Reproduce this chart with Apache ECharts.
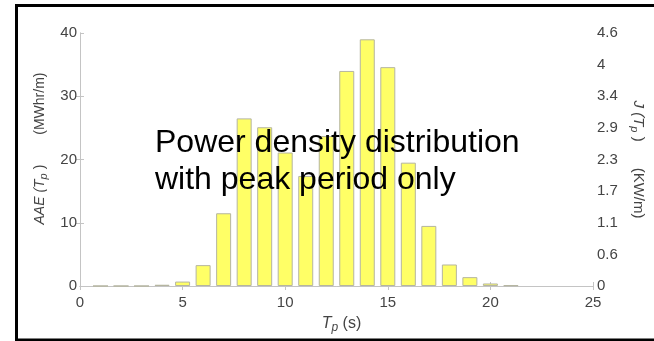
<!DOCTYPE html>
<html>
<head>
<meta charset="utf-8">
<script src="https://cdn.jsdelivr.net/npm/echarts@6/dist/echarts.min.js"></script>
<style>
html,body{margin:0;padding:0;background:#fff;}
#c{width:654px;height:341px;}
</style>
</head>
<body>
<div id="c"></div>
<script>
// Peak period Tp (s)
var periods = [1,2,3,4,5,6,7,8,9,10,11,12,13,14,15,16,17,18,19,20,21];
// AAE(Tp) in MWhr/m
var aae = [0,0,0,0.2,0.7,3.3,11.5,26.5,25.1,21.1,17.4,23.7,34.0,39.0,34.6,19.5,9.5,3.4,1.4,0.4,0.1];
// right axis tick labels J(Tp) KW/m, one per 5 MWhr/m step
var rightLabels = ['0','0.6','1.1','1.7','2.3','2.9','3.4','4','4.6'];

var chart = echarts.init(document.getElementById('c'), null, {renderer:'canvas'});
var axisGrey = '#c4c4c4';
var labelCol = '#444444';
var fam = 'Liberation Sans, Arial, sans-serif';

var barData = periods.map(function(p,i){ return [p, aae[i]]; });

function richSet(size, gapW){
  return {
    it:{fontStyle:'italic', fontSize:size, color:labelCol, fontFamily:fam},
    sub:{fontStyle:'italic', fontSize:11, color:labelCol, fontFamily:fam, padding:[8,0,0,0]},
    n:{fontSize:size, color:labelCol, fontFamily:fam},
    g:{fontSize:size, width:gapW},
    u:{fontSize:size, color:labelCol, fontFamily:fam}
  };
}

var option = {
  animation:false,
  backgroundColor:'#ffffff',
  grid:{left:80, right:61, top:33, bottom:55, containLabel:false},
  xAxis:[{
    type:'value', min:0, max:25, interval:5, position:'bottom',
    axisLine:{show:true, lineStyle:{color:axisGrey, width:1}},
    axisTick:{show:true, inside:true, length:4, lineStyle:{color:axisGrey}},
    axisLabel:{color:labelCol, fontSize:15, fontFamily:fam, margin:9},
    splitLine:{show:false},
    name:'{it|T}{sub|p}{n| (s)}', nameLocation:'middle', nameGap:27,
    nameTextStyle:{padding:[0,0,0,10], rich:{
      it:{fontStyle:'italic', fontSize:16, color:labelCol, fontFamily:fam},
      sub:{fontStyle:'italic', fontSize:12, color:labelCol, fontFamily:fam, padding:[9,0,0,0]},
      n:{fontSize:16, color:labelCol, fontFamily:fam}
    }}
  },{
    type:'value', min:0, max:25, interval:5, position:'top',
    axisLine:{show:true, lineStyle:{color:axisGrey, width:1}},
    axisTick:{show:true, inside:true, length:4, lineStyle:{color:axisGrey}},
    axisLabel:{show:false}, splitLine:{show:false}
  }],
  yAxis:[{
    type:'value', min:0, max:40, interval:10, position:'left',
    axisLine:{show:true, lineStyle:{color:axisGrey, width:1}},
    axisTick:{show:true, inside:true, length:4, lineStyle:{color:axisGrey}},
    axisLabel:{color:labelCol, fontSize:15, fontFamily:fam, margin:3},
    splitLine:{show:false},
    name:'{it|AAE (T}{sub|p}{n| )}{g| }{u|(MWhr/m)}', nameLocation:'middle', nameGap:28,
    nameTextStyle:{padding:[0,0,0,22], rich:richSet(14, 30)}
  },{
    type:'value', min:0, max:40, interval:5, position:'right',
    axisLine:{show:true, lineStyle:{color:axisGrey, width:1}},
    axisTick:{show:true, inside:true, length:4, customValues:[10,20,30], lineStyle:{color:axisGrey}},
    axisLabel:{color:labelCol, fontSize:15, fontFamily:fam, margin:4,
      formatter:function(v){ return rightLabels[Math.round(v/5)]; }},
    splitLine:{show:false},
    name:'{it|J (T}{sub|p}{n| )}{g| }{u|(KW/m)}', nameLocation:'middle', nameGap:34, nameRotate:-90,
    nameTextStyle:{rich:richSet(15, 26)}
  }],
  series:[{
    type:'bar', xAxisIndex:0, yAxisIndex:0,
    data:barData, barWidth:15,
    itemStyle:{color:'#ffff66', borderColor:'#b5b5a0', borderWidth:1}
  }],
  graphic:[
    {type:'text', left:155, top:125, z:100, silent:true,
     style:{text:'Power density distribution\nwith peak period only', fill:'#000', font:'32px Liberation Sans, Arial, sans-serif', lineHeight:37}},
    {type:'rect', z:100, silent:true,
     shape:{x:16.5, y:5.5, width:700, height:334.5},
     style:{fill:'none', stroke:'#000', lineWidth:3}}
  ]
};
chart.setOption(option);
</script>
</body>
</html>
